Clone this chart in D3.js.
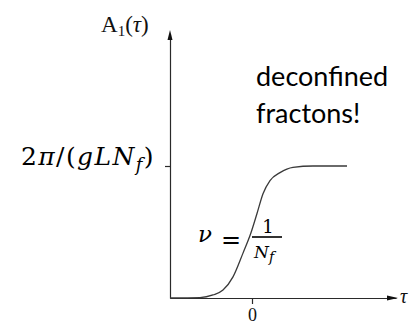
<!DOCTYPE html>
<html>
<head>
<meta charset="utf-8">
<script src="https://cdn.jsdelivr.net/npm/d3@7"></script>
<style>
  html, body { margin: 0; padding: 0; background: #fff; }
  svg { display: block; }
</style>
</head>
<body>
<svg id="chart" width="416" height="326"></svg>
<script>
// Order parameter A1(τ) across the transition, in units of 2π/(gLN_f)
const tau = [-2.05, -1.3, -0.975, -0.725, -0.475, -0.225, -0.03, 0.125, 0.275, 0.45, 0.7, 1.025, 1.525, 2.375];
const amp = [0, 0.003, 0.023, 0.06, 0.16, 0.34, 0.49, 0.64, 0.79, 0.89, 0.95, 0.99, 1, 1];
const xTicks = [0];
const xTickLabels = ["0"];
const yTicks = [1];

const svg = d3.select("#chart");
const x = d3.scaleLinear().domain([-2.05, 3.6]).range([170, 396]);
const y = d3.scaleLinear().domain([0, 2.0]).range([298, 34]);

const ink = "#2a2a2a";

// axes
const xAxis = d3.axisBottom(x).tickValues(xTicks).tickSize(6).tickSizeOuter(0)
  .tickFormat((d, i) => xTickLabels[i]);
const gx = svg.append("g").attr("transform", `translate(0,${y(0)})`).call(xAxis);
gx.select(".domain").attr("stroke", ink).attr("stroke-width", 1.2);
gx.selectAll(".tick line").attr("stroke", ink).attr("stroke-width", 1.2);
gx.selectAll(".tick text").attr("fill", "#111").attr("font-family", "Liberation Serif, serif")
  .attr("font-size", 18).attr("y", 23).attr("dy", null);

const yAxis = d3.axisLeft(y).tickValues(yTicks).tickSize(5).tickSizeOuter(0).tickFormat("");
const gy = svg.append("g").attr("transform", `translate(${x(-2.05)},0)`).call(yAxis);
gy.select(".domain").attr("stroke", ink).attr("stroke-width", 1.2);
gy.selectAll(".tick line").attr("stroke", ink).attr("stroke-width", 1.2);

// arrow heads
const yTop = y(2.0), xEnd = x(3.6);
svg.append("path")
  .attr("d", `M${x(-2.05)},${yTop - 4} L${x(-2.05) - 2.5},${yTop + 6} L${x(-2.05) + 2.5},${yTop + 6} Z`)
  .attr("fill", "#111");
svg.append("path")
  .attr("d", `M${xEnd + 2},${y(0)} L${xEnd - 9},${y(0) - 2.5} L${xEnd - 9},${y(0) + 2.5} Z`)
  .attr("fill", "#111");

// curve
const line = d3.line().x((d, i) => x(tau[i])).y(d => y(d)).curve(d3.curveMonotoneX);
svg.append("path").datum(amp).attr("d", line)
  .attr("fill", "none").attr("stroke", "#3a3a3a").attr("stroke-width", 1.3);

// axis titles
const serif = "Liberation Serif, serif";
const yt = svg.append("text").attr("x", 101).attr("y", 32).attr("font-family", serif)
  .attr("font-size", 23).attr("fill", "#111");
yt.append("tspan").text("A");
yt.append("tspan").attr("font-size", 15).attr("dy", 4).text("1");
yt.append("tspan").attr("dy", -4).text("(");
yt.append("tspan").attr("font-style", "italic").text("τ");
yt.append("tspan").text(")");

svg.append("text").attr("x", 400).attr("y", 303).attr("font-family", serif)
  .attr("font-style", "italic").attr("font-size", 20).attr("fill", "#111").text("τ");

// plateau value label
const math = "DejaVu Serif, serif";
const pl = svg.append("text").attr("x", 155).attr("y", 165).attr("text-anchor", "end")
  .attr("font-family", math).attr("font-size", 25).attr("letter-spacing", 1.4).attr("fill", "#000");
pl.append("tspan").text("2");
pl.append("tspan").attr("font-style", "italic").text("π");
pl.append("tspan").text("/(");
pl.append("tspan").attr("font-style", "italic").text("gLN");
pl.append("tspan").attr("font-style", "italic").attr("font-size", 18).attr("dy", 6).text("f");
pl.append("tspan").attr("dy", -6).text(")");

// annotation
svg.append("text").attr("x", 256).attr("y", 86).attr("font-family", "Lato, sans-serif")
  .attr("font-size", 27).attr("fill", "#000").text("deconfined");
svg.append("text").attr("x", 256).attr("y", 123).attr("font-family", "Lato, sans-serif")
  .attr("font-size", 27).attr("fill", "#000").text("fractons!");

// slope label
svg.append("text").attr("x", 198).attr("y", 242).attr("font-family", math)
  .attr("font-style", "italic").attr("font-size", 23).attr("fill", "#000").text("ν");
svg.append("text").attr("x", 221).attr("y", 248).attr("font-family", math)
  .attr("font-size", 24).attr("fill", "#000").text("=");
svg.append("line").attr("x1", 252).attr("x2", 282).attr("y1", 237).attr("y2", 237)
  .attr("stroke", "#000").attr("stroke-width", 1.6);
svg.append("text").attr("x", 268).attr("y", 233).attr("text-anchor", "middle").attr("font-family", math)
  .attr("font-size", 18).attr("fill", "#000").text("1");
const nf = svg.append("text").attr("x", 254).attr("y", 258).attr("font-family", math)
  .attr("font-style", "italic").attr("font-size", 17).attr("fill", "#000");
nf.append("tspan").text("N");
nf.append("tspan").attr("font-size", 14).attr("dy", 4).text("f");
</script>
</body>
</html>
